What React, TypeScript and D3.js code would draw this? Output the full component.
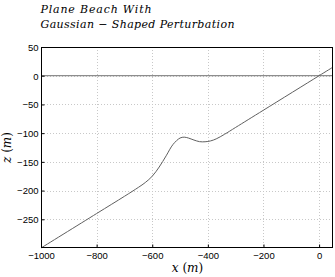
import { useEffect, useRef } from "react";
import * as d3 from "d3";

// bed profile: x (m), z (m)
const profileX = [-1000, -800, -700, -650, -625, -600, -575, -550, -525, -500, -485, -470, -450, -430, -410, -390, -370, -340, -300, -200, 0, 50];
const profileZ = [-300, -240, -210, -194.5, -186, -175, -159, -139.5, -119.5, -108.5, -107, -108.5, -112, -114.8, -115, -113.5, -110, -102, -90, -60, 0, 15];

const seaX = [-1000, 50];
const seaZ = [0, 0];

const xTicks = [-1000, -800, -600, -400, -200, 0];
const yTicks = [50, 0, -50, -100, -150, -200, -250];

const titleLines = ["Plane Beach With", "Gaussian \u2212 Shaped Perturbation"];
const titleWidths = [111, 194];

const App = () => {
  const svgRef = useRef<SVGSVGElement>(null);

  useEffect(() => {
    const w = 335;
    const h = 277;
    const m = { left: 41, right: 333, top: 47, bottom: 248 };

    const svg = d3.select(svgRef.current).attr("width", w).attr("height", h);
    svg.selectAll("*").remove();

    const xScale = d3.scaleLinear().domain([-1000, 50]).range([m.left, m.right]);
    const yScale = d3.scaleLinear().domain([-300, 50]).range([m.bottom, m.top]);

    // grid
    const grid = svg.append("g").attr("stroke", "#c8c8c8").attr("stroke-dasharray", "1,2").attr("stroke-width", 1);
    grid.selectAll("line.gx")
      .data(xTicks.slice(1))
      .join("line")
      .attr("x1", d => Math.round(xScale(d)) + 0.5)
      .attr("x2", d => Math.round(xScale(d)) + 0.5)
      .attr("y1", m.top)
      .attr("y2", m.bottom);
    grid.selectAll("line.gy")
      .data(yTicks.slice(1))
      .join("line")
      .attr("x1", m.left)
      .attr("x2", m.right)
      .attr("y1", d => Math.round(yScale(d)) + 0.5)
      .attr("y2", d => Math.round(yScale(d)) + 0.5);

    const line = d3.line<number>()
      .x(d => xScale(d))
      .curve(d3.curveCatmullRom);

    svg.append("path")
      .attr("d", d3.line<number>().x(d => xScale(d)).y((_, i) => yScale(seaZ[i]))(seaX))
      .attr("fill", "none")
      .attr("stroke", "#707070")
      .attr("stroke-width", 1);

    svg.append("path")
      .attr("d", line.y((_, i) => yScale(profileZ[i]))(profileX))
      .attr("fill", "none")
      .attr("stroke", "#606060")
      .attr("stroke-width", 1);

    // frame
    svg.append("rect")
      .attr("x", m.left + 0.5)
      .attr("y", m.top + 0.5)
      .attr("width", m.right - m.left - 1)
      .attr("height", m.bottom - m.top - 1)
      .attr("fill", "none")
      .attr("stroke", "#000");

    const fmt = (d: d3.NumberValue) => d3.format("d")(d as number).replace("-", "\u2212");
    const xAxis = d3.axisBottom(xScale).tickValues(xTicks).tickSize(-3).tickSizeOuter(0).tickFormat(fmt);
    const yAxis = d3.axisLeft(yScale).tickValues(yTicks).tickSize(-3).tickSizeOuter(0).tickFormat(fmt);

    const gx = svg.append("g").attr("transform", `translate(0,${m.bottom - 0.5})`).call(xAxis);
    const gy = svg.append("g").attr("transform", `translate(${m.left + 0.5},0)`).call(yAxis);
    for (const g of [gx, gy]) {
      g.select(".domain").remove();
      g.selectAll("text").attr("font-family", "Liberation Sans, Arial, sans-serif").attr("font-size", 9.5).attr("fill", "#000");
    }
    gx.selectAll("text").attr("dy", "0").attr("y", 11.5);
    gy.selectAll("text").attr("x", -3).attr("dy", "0.35em");

    // title
    svg.append("g")
      .selectAll("text")
      .data(titleLines)
      .join("text")
      .attr("x", 40.5)
      .attr("y", (_, i) => 12.5 + i * 15.5)
      .attr("font-family", "DejaVu Serif, serif")
      .attr("font-style", "italic")
      .attr("font-size", 11)
      .attr("textLength", (_, i) => titleWidths[i])
      .attr("lengthAdjust", "spacing")
      .text(d => d);

    const axisLabel = (sel: d3.Selection<SVGTextElement, unknown, null, undefined>, v: string) => {
      sel.attr("font-family", "DejaVu Serif, serif").attr("font-size", 12).attr("text-anchor", "middle");
      sel.append("tspan").attr("font-style", "italic").text(v);
      sel.append("tspan").text(" (");
      sel.append("tspan").attr("font-style", "italic").text("m");
      sel.append("tspan").text(")");
    };

    svg.append("text")
      .attr("x", (m.left + m.right) / 2 + 0.5)
      .attr("y", 272)
      .call(axisLabel as any, "x");

    svg.append("text")
      .attr("transform", `translate(11,${(m.top + m.bottom) / 2}) rotate(-90)`)
      .call(axisLabel as any, "z");
  }, []);

  return (
    <div style={{ position: "absolute", left: 0, top: 0 }}>
      <svg ref={svgRef}></svg>
    </div>
  );
};

export default App;
